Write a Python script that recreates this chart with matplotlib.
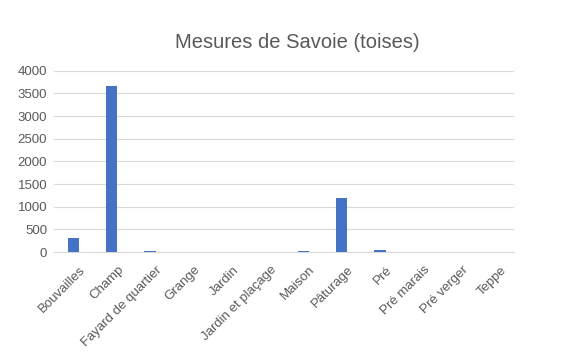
import matplotlib
matplotlib.use("Agg")
import matplotlib.pyplot as plt
from matplotlib.transforms import ScaledTranslation, blended_transform_factory

categories = ["Bouvailles", "Champ", "Fayard de quartier", "Grange", "Jardin",
              "Jardin et plaçage", "Maison", "Pâturage", "Pré", "Pré marais",
              "Pré verger", "Teppe"]
values = [300, 3670, 30, 0, 0, 0, 25, 1200, 55, 0, 0, 0]
yticks = [0, 500, 1000, 1500, 2000, 2500, 3000, 3500, 4000]

plt.rcParams['font.family'] = ['Liberation Sans', 'DejaVu Sans']
fig = plt.figure(figsize=(5.83, 3.56), dpi=100)
ax = fig.add_axes([0.093, 0.292, 0.789, 0.509])
x = list(range(len(categories)))
ax.bar(x, values, width=0.3, color="#4472C4", zorder=3)
ax.set_xlim(-0.5, len(categories) - 0.5)
ax.set_ylim(0, 4000)
ax.set_yticks(yticks)
ax.set_yticklabels([str(t) for t in yticks], fontsize=9.5, color="#595959")
ax.set_xticks(x)
ax.set_xticklabels([])
base = blended_transform_factory(ax.transData, ax.transAxes)
off = ScaledTranslation(10 / 100, -16 / 100, fig.dpi_scale_trans)
for i, name in zip(x, categories):
    ax.text(i, 0, name, transform=base + off, rotation=45, ha="right",
            va="center", rotation_mode="anchor", fontsize=9.5, color="#595959")
ax.tick_params(axis="x", length=0)
ax.tick_params(axis="y", length=0, pad=5)
ax.grid(axis="y", color="#d9d9d9", linewidth=0.8, zorder=0)
for s in ["top", "right", "left"]:
    ax.spines[s].set_visible(False)
ax.spines["bottom"].set_color("#d9d9d9")
fig.text(0.51, 0.882, "Mesures de Savoie (toises)", ha="center", va="center",
         fontsize=14.5, color="#595959")
fig.savefig("out.png", dpi=100)
